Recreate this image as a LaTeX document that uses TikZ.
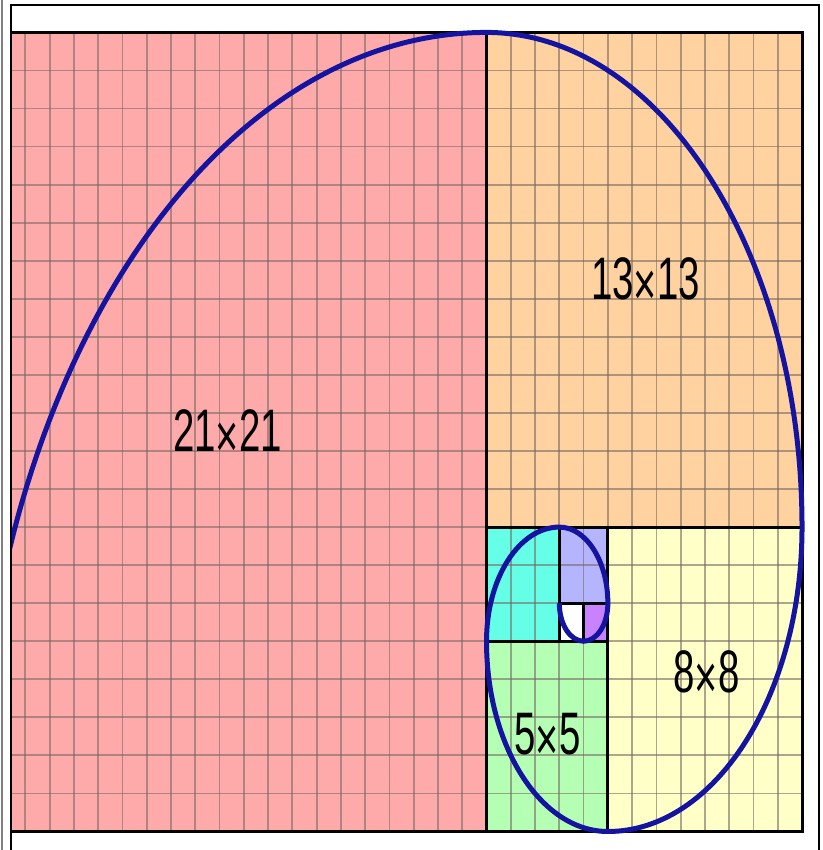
\documentclass[tikz,border=0pt]{standalone}
\usepackage{fontspec}
\setmainfont{Liberation Sans}
\definecolor{cpink}{RGB}{255,170,170}
\definecolor{cpeach}{RGB}{255,210,160}
\definecolor{cyel}{RGB}{255,255,200}
\definecolor{cgreen}{RGB}{180,255,180}
\definecolor{ccyan}{RGB}{100,255,230}
\definecolor{clav}{RGB}{180,180,255}
\definecolor{cpurp}{RGB}{200,130,255}
\definecolor{cspiral}{RGB}{20,20,160}
\definecolor{cgrid}{RGB}{120,105,100}
\newcommand\fibx{{\fontsize{62}{62}\selectfont\raisebox{-6pt}{×}}}
\begin{document}
\begin{tikzpicture}[x=1pt,y=1pt,
  sq/.style={line width=3pt, draw=black},
  gridl/.style={draw=cgrid, draw opacity=0.6, line width=1.8pt},
  spiral/.style={draw=cspiral, line width=5pt},
  lbl/.style={inner sep=0pt, anchor=base, font=\fontsize{60}{60}\selectfont}]
\useasboundingbox (0,0) rectangle (822,850);
\fill[white] (0,0) rectangle (822,850);
\begin{scope}
\clip (12,0) rectangle (822,850);
\begin{scope}[shift={(-23.17,18.5)}, x=24.27pt, y=38.05pt]
  \fill[cpink] (0,0) rectangle (21,21);
  \fill[cpeach] (21,8) rectangle (34,21);
  \fill[cyel] (26,0) rectangle (34,8);
  \fill[cgreen] (21,0) rectangle (26,5);
  \fill[ccyan] (21,5) rectangle (24,8);
  \fill[clav] (24,6) rectangle (26,8);
  \fill[white] (24,5) rectangle (25,6);
  \fill[cpurp] (25,5) rectangle (26,6);
  \foreach \i in {1,...,33} \draw[gridl] (\i,0) -- (\i,21);
  \foreach \j in {1,...,20} \draw[gridl] (0,\j) -- (34,\j);
  \draw[sq] (0,0) rectangle (34,21);
  \draw[sq] (21,0) -- (21,21);
  \draw[sq] (21,8) -- (34,8);
  \draw[sq] (26,0) -- (26,8);
  \draw[sq] (21,5) -- (26,5);
  \draw[sq] (24,5) -- (24,8);
  \draw[sq] (24,6) -- (26,6);
  \draw[sq] (25,5) -- (25,6);
  \draw[spiral] (24,6) arc[start angle=180, end angle=360, radius=1]
    arc[start angle=0, end angle=90, radius=2]
    arc[start angle=90, end angle=180, radius=3]
    arc[start angle=180, end angle=270, radius=5]
    arc[start angle=270, end angle=360, radius=8]
    arc[start angle=0, end angle=90, radius=13]
    arc[start angle=90, end angle=180, radius=21];
\end{scope}
\end{scope}
\node[lbl] (t21) at (227.5,398) {\scalebox{0.64}[1]{21\fibx21}};
\node[lbl] (t13) at (645.5,550) {\scalebox{0.64}[1]{13\fibx13}};
\node[lbl] (t8) at (706.5,157) {\scalebox{0.64}[1]{8\fibx8}};
\node[lbl] (t5) at (547.5,95) {\scalebox{0.64}[1]{5\fibx5}};
\draw[line width=2pt] (11,0) -- (11,845) -- (819,845) -- (819,0);
\draw[gray, line width=2pt] (1.5,0) -- (1.5,850);
\end{tikzpicture}
\end{document}
